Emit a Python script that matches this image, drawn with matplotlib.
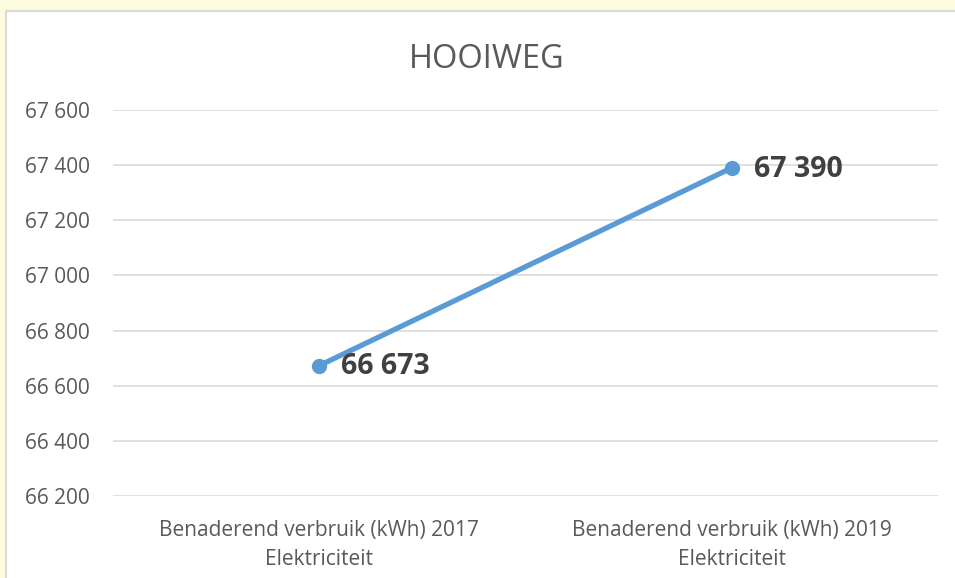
import matplotlib.pyplot as plt
from matplotlib.patches import Rectangle
from matplotlib.ticker import FuncFormatter

# data
categories = ["Benaderend verbruik (kWh) 2017\nElektriciteit",
              "Benaderend verbruik (kWh) 2019\nElektriciteit"]
values = [66673, 67390]
y_ticks = [66200, 66400, 66600, 66800, 67000, 67200, 67400, 67600]

plt.rcParams['font.family'] = ['Open Sans', 'DejaVu Sans']

fig = plt.figure(figsize=(9.55, 5.78), dpi=100)
fig.patch.set_facecolor('#FDFBE0')

# white chart area with a light border
W, H = 955, 578
fig.patches.append(Rectangle((6 / W, -0.05), 1.1, 1.05 - 11 / H, transform=fig.transFigure,
                             facecolor='white', edgecolor='#D9D9D9', lw=1.5, zorder=-1))

ax = fig.add_axes([113 / W, 1 - 496 / H, (938 - 113) / W, (496 - 110) / H])
ax.set_facecolor('none')

x = [0, 1]
ax.plot(x, values, color='#5B9BD5', lw=3.8, marker='o', markersize=10,
        solid_capstyle='round', zorder=3)

for xi, v in zip(x, values):
    ax.annotate(f"{v:,}".replace(",", " "), (xi, v), xytext=(16, -1),
                textcoords='offset points', ha='left', va='center',
                fontsize=20.5, fontweight='bold', color='#404040')

ax.set_xlim(-0.5, 1.5)
ax.set_ylim(66200, 67600)
ax.set_yticks(y_ticks)
ax.yaxis.set_major_formatter(FuncFormatter(lambda v, p: f"{int(v):,}".replace(",", " ")))
ax.set_xticks(x)
ax.set_xticklabels(categories, linespacing=1.5)
ax.tick_params(axis='both', length=0, labelsize=15, colors='#595959')
ax.tick_params(axis='y', pad=16.5)
ax.tick_params(axis='x', pad=17)
ax.grid(axis='y', color='#D9D9D9', lw=1.2)
ax.set_axisbelow(True)
for s in ax.spines.values():
    s.set_visible(False)

fig.text(487 / W, 1 - 59 / H, "HOOIWEG", ha='center', va='center',
         fontsize=23.5, color='#595959')

fig.savefig('out.png', dpi=100, facecolor=fig.get_facecolor())
